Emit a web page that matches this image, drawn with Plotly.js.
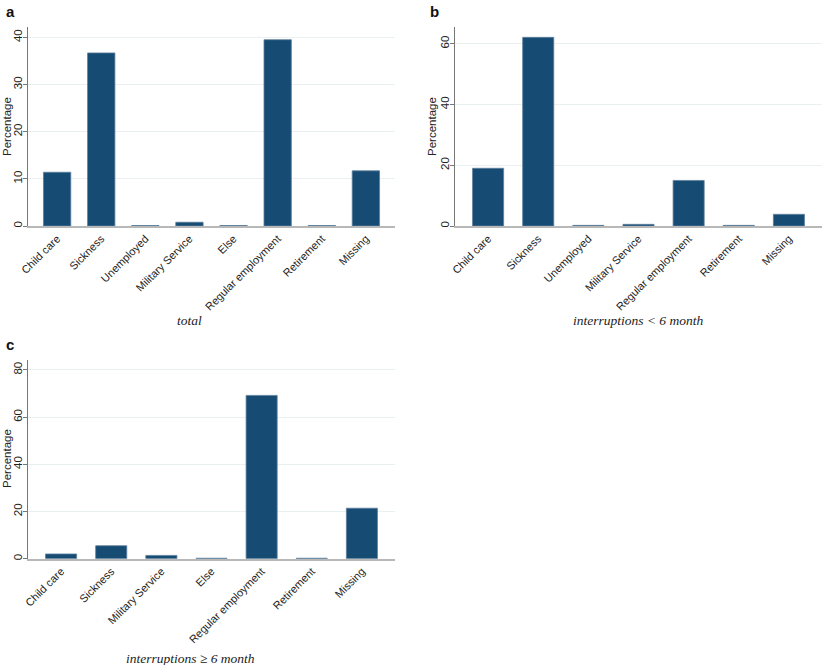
<!DOCTYPE html>
<html>
<head>
<meta charset="utf-8">
<script src="https://cdn.plot.ly/plotly-3.0.1.min.js"></script>
<style>html,body{margin:0;padding:0;background:#fff;}#chart{width:822px;height:665px;}</style>
</head>
<body>
<div id="chart"></div>
<script>
// Panel a: total
const catsA = ["Child care","Sickness","Unemployed","Military Service","Else","Regular employment","Retirement","Missing"];
const valsA = [11.4, 36.7, 0.1, 0.8, 0.1, 39.5, 0.1, 11.7];
// Panel b: interruptions < 6 month
const catsB = ["Child care","Sickness","Unemployed","Military Service","Regular employment","Retirement","Missing"];
const valsB = [19.0, 62.1, 0.2, 0.55, 15.0, 0.2, 3.85];
// Panel c: interruptions >= 6 month
const catsC = ["Child care","Sickness","Military Service","Else","Regular employment","Retirement","Missing"];
const valsC = [2.0, 5.5, 1.4, 0.2, 69.2, 0.2, 21.4];

const panelLetters = ["a","b","c"];
const panelTitles = ["total","interruptions &lt; 6 month","interruptions ≥ 6 month"];
const yTitle = "Percentage";
const yTicksA = [0,10,20,30,40];
const yTicksB = [0,20,40,60];
const yTicksC = [0,20,40,60,80];

const W = 822, H = 665;
const barColor = "#164b73";
function bar(cats, vals, xa, ya){
  return {type:"bar", x:cats, y:vals, xaxis:xa, yaxis:ya, width:0.62,
    marker:{color:barColor, line:{color:"#5d7f9c", width:0.8}},
    hoverinfo:"x+y", showlegend:false};
}
const sans = "Liberation Sans, Arial, sans-serif";
const xTickFont = {family:sans, size:11, color:"#222"};
const yTickFont = {family:sans, size:11.5, color:"#222"};
function xax(dom, n, anchor){
  return {domain:dom, anchor:anchor, type:"category", range:[-0.66, n-1+0.66],
    tickangle:-45, tickfont:xTickFont, showgrid:false, zeroline:false,
    showline:true, linecolor:"#b8b8b8", linewidth:2, ticks:"", fixedrange:true};
}
function yax(dom, rng, tv, anchor){
  return {domain:dom, anchor:anchor, range:rng, tickvals:tv, ticktext:tv.map(String),
    tickangle:-90, tickfont:yTickFont, showgrid:true, gridcolor:"#e8f0f1", gridwidth:1,
    zeroline:false, showline:true, linecolor:"#777", linewidth:1,
    ticks:"outside", ticklen:4, tickcolor:"#777", ticklabelstandoff:-4, fixedrange:true};
}
const yDomTop = [1-226/H, 1-27/H];
const yDomBot = [1-558.7/H, 1-360/H];
const xDomLeft = [28/W, 395/W];
const xDomRight = [455/W, 1];

const data = [
  bar(catsA, valsA, "x", "y"),
  bar(catsB, valsB, "x2", "y2"),
  bar(catsC, valsC, "x3", "y3")
];

const letterFont = {family:sans, size:15, color:"#111"};
const subFont = {family:"Liberation Serif, Times New Roman, serif", size:13.5, color:"#222"};
const yTitleFont = {family:sans, size:11.5, color:"#222"};
function ytitle(xpx, ypx){
  return {text:yTitle, xref:"paper", yref:"paper", x:xpx/W, y:1-ypx/H, xanchor:"center", yanchor:"middle",
    textangle:-90, showarrow:false, font:yTitleFont};
}
const layout = {
  width:W, height:H, margin:{l:0,r:0,t:0,b:0},
  paper_bgcolor:"#fff", plot_bgcolor:"#fff",
  xaxis: xax(xDomLeft, catsA.length, "y"),
  yaxis: yax(yDomTop, [0,42.2], yTicksA, "x"),
  xaxis2: xax(xDomRight, catsB.length, "y2"),
  yaxis2: yax(yDomTop, [0,65.5], yTicksB, "x2"),
  xaxis3: xax(xDomLeft, catsC.length, "y3"),
  yaxis3: yax(yDomBot, [0,84.2], yTicksC, "x3"),
  annotations:[
    {text:"<b>"+panelLetters[0]+"</b>", xref:"paper", yref:"paper", x:4/W, y:1-1/H, xanchor:"left", yanchor:"top", showarrow:false, font:letterFont},
    {text:"<b>"+panelLetters[1]+"</b>", xref:"paper", yref:"paper", x:428/W, y:1-1/H, xanchor:"left", yanchor:"top", showarrow:false, font:letterFont},
    {text:"<b>"+panelLetters[2]+"</b>", xref:"paper", yref:"paper", x:4/W, y:1-334/H, xanchor:"left", yanchor:"top", showarrow:false, font:letterFont},
    ytitle(7, 127), ytitle(432, 127), ytitle(7, 459),
    {text:"<i>"+panelTitles[0]+"</i>", xref:"paper", yref:"paper", x:189/W, y:1-320/H, xanchor:"center", yanchor:"middle", showarrow:false, font:subFont},
    {text:"<i>"+panelTitles[1]+"</i>", xref:"paper", yref:"paper", x:638/W, y:1-320/H, xanchor:"center", yanchor:"middle", showarrow:false, font:subFont},
    {text:"<i>"+panelTitles[2]+"</i>", xref:"paper", yref:"paper", x:190/W, y:1-658/H, xanchor:"center", yanchor:"middle", showarrow:false, font:subFont}
  ]
};
Plotly.newPlot("chart", data, layout, {displayModeBar:false, staticPlot:true});
</script>
</body>
</html>
